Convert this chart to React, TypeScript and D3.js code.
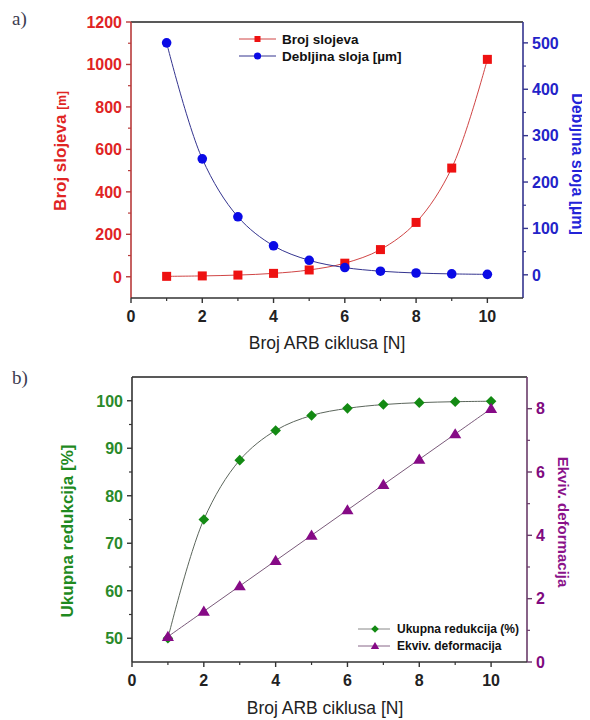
import React from "react";
import * as d3 from "d3";

const cycles = [1, 2, 3, 4, 5, 6, 7, 8, 9, 10];
const brojSlojeva = [2, 4, 8, 16, 32, 64, 128, 256, 512, 1024];
const debljinaSloja = [500, 250, 125, 62.5, 31.25, 15.6, 7.8, 3.9, 1.95, 0.98];
const ukupnaRedukcija = [50, 75, 87.5, 93.75, 96.9, 98.4, 99.2, 99.6, 99.8, 99.9];
const ekvivDeformacija = [0.8, 1.6, 2.4, 3.2, 4.0, 4.8, 5.6, 6.4, 7.2, 8.0];

const xMajor = [0, 2, 4, 6, 8, 10];
const xMinor = [1, 3, 5, 7, 9];
const aLeftMajor = [0, 200, 400, 600, 800, 1000, 1200];
const aLeftMinor = [100, 300, 500, 700, 900, 1100];
const aRightMajor = [0, 100, 200, 300, 400, 500];
const aRightMinor = [50, 150, 250, 350, 450];
const bLeftMajor = [50, 60, 70, 80, 90, 100];
const bLeftMinor = [55, 65, 75, 85, 95];
const bRightMajor = [0, 2, 4, 6, 8];
const bRightMinor = [1, 3, 5, 7];

const FONT = "'Liberation Sans', Arial, sans-serif";

type Sc = d3.ScaleLinear<number, number>;

function VAxis({ scale, x, major, minor, side, color, labelColor, size = 16 }: any) {
  const dir = side === "left" ? -1 : 1;
  const [r0, r1] = scale.range();
  return (
    <g>
      <line x1={x} x2={x} y1={r0} y2={r1} stroke={color} strokeWidth={1.6} />
      {major.map((v: number) => (
        <g key={"M" + v}>
          <line x1={x} x2={x + dir * 5} y1={scale(v)} y2={scale(v)} stroke={color} strokeWidth={1.4} />
          <text
            x={x + dir * 9}
            y={scale(v)}
            dy="0.36em"
            textAnchor={side === "left" ? "end" : "start"}
            fill={labelColor}
            fontFamily={FONT}
            fontWeight="bold"
            fontSize={size}
          >
            {v}
          </text>
        </g>
      ))}
      {minor.map((v: number) => (
        <line key={"m" + v} x1={x} x2={x + dir * 3} y1={scale(v)} y2={scale(v)} stroke={color} strokeWidth={1.2} />
      ))}
    </g>
  );
}

function XAxis({ scale, y, color }: any) {
  const [r0, r1] = scale.range();
  return (
    <g>
      <line x1={r0} x2={r1} y1={y} y2={y} stroke={color} strokeWidth={1.6} />
      {xMajor.map((v) => (
        <g key={"M" + v}>
          <line x1={scale(v)} x2={scale(v)} y1={y} y2={y + 5} stroke={color} strokeWidth={1.4} />
          <text x={scale(v)} y={y + 18} dy="0.36em" textAnchor="middle" fill="#222" fontFamily={FONT} fontWeight="bold" fontSize={16}>
            {v}
          </text>
        </g>
      ))}
      {xMinor.map((v) => (
        <line key={"m" + v} x1={scale(v)} x2={scale(v)} y1={y} y2={y + 3} stroke={color} strokeWidth={1.2} />
      ))}
    </g>
  );
}

function diamond(cx: number, cy: number, r: number) {
  return `M${cx},${cy - r}L${cx + r},${cy}L${cx},${cy + r}L${cx - r},${cy}Z`;
}
function triangle(cx: number, cy: number, r: number) {
  return `M${cx},${cy - r}L${cx + r * 1.05},${cy + r * 0.75}L${cx - r * 1.05},${cy + r * 0.75}Z`;
}

export default function App() {
  // Chart a
  const ax = d3.scaleLinear().domain([0, 11]).range([131, 523]);
  const ayL = d3.scaleLinear().domain([-100, 1200]).range([298, 22]);
  const ayR = d3.scaleLinear().domain([-50, 545]).range([298, 22]);
  // Chart b
  const bx = d3.scaleLinear().domain([0, 11]).range([132, 527]);
  const byL = d3.scaleLinear().domain([45, 105]).range([662, 377]);
  const byR = d3.scaleLinear().domain([0, 9]).range([662, 377]);

  const mk = (xs: Sc, ys: Sc, vals: number[]) =>
    d3
      .line<number>()
      .x((_, i) => xs(cycles[i]))
      .y((d) => ys(d))
      .curve(d3.curveCatmullRom.alpha(0.5))(vals) as string;

  return (
    <svg width={582} height={712} style={{ display: "block", background: "#fff" }}>
      <g transform="translate(-8,-8)">
        {/* ---------- Chart a ---------- */}
        <text x={12} y={25} fontFamily="'Liberation Serif', 'DejaVu Serif', serif" fontSize={19} fill="#3c3c50">
          a)
        </text>
        <line x1={131} x2={523} y1={22} y2={22} stroke="#222" strokeWidth={1.4} />
        <path d={mk(ax, ayL, brojSlojeva)} fill="none" stroke="#d04545" strokeWidth={1} />
        <path d={mk(ax, ayR, debljinaSloja)} fill="none" stroke="#34348f" strokeWidth={1} />
        {brojSlojeva.map((v, i) => (
          <rect key={"r" + i} x={ax(cycles[i]) - 4.5} y={ayL(v) - 4.5} width={9} height={9} fill="#ee1111" />
        ))}
        {debljinaSloja.map((v, i) => (
          <circle key={"c" + i} cx={ax(cycles[i])} cy={ayR(v)} r={4.8} fill="#0a0ae6" />
        ))}
        <VAxis scale={ayL} x={131} major={aLeftMajor} minor={aLeftMinor} side="left" color="#b83a3a" labelColor="#e02424" />
        <VAxis scale={ayR} x={523} major={aRightMajor} minor={aRightMinor} side="right" color="#34348f" labelColor="#2323c8" />
        <XAxis scale={ax} y={298} color="#333" />
        <text x={327} y={343} dy="0.36em" textAnchor="middle" fontFamily={FONT} fontSize={17.5} fill="#222">
          Broj ARB ciklusa [N]
        </text>
        <text transform="translate(60,151) rotate(-90)" dy="0.36em" textAnchor="middle" fontFamily={FONT} fontWeight="bold" fontSize={17} fill="#e02424">
          Broj slojeva <tspan fontSize={12}>[m]</tspan>
        </text>
        <text transform="translate(578,164) rotate(90)" dy="0.36em" textAnchor="middle" fontFamily={FONT} fontWeight="bold" fontSize={16} fill="#2323d8">
          Debljina sloja [µm]
        </text>
        {/* legend a */}
        <line x1={239} x2={276} y1={39} y2={39} stroke="#d04545" strokeWidth={1} />
        <rect x={254.5} y={36} width={6} height={6} fill="#ee1111" />
        <text x={282} y={39} dy="0.36em" fontFamily={FONT} fontWeight="bold" fontSize={13.5} fill="#111">
          Broj slojeva
        </text>
        <line x1={239} x2={276} y1={56} y2={56} stroke="#34348f" strokeWidth={1} />
        <circle cx={257.5} cy={56} r={3.6} fill="#0a0ae6" />
        <text x={282} y={56} dy="0.36em" fontFamily={FONT} fontWeight="bold" fontSize={13.5} fill="#111">
          Debljina sloja [µm]
        </text>

        {/* ---------- Chart b ---------- */}
        <text x={12} y={384} fontFamily="'Liberation Serif', 'DejaVu Serif', serif" fontSize={19} fill="#3c3c50">
          b)
        </text>
        <line x1={132} x2={527} y1={377} y2={377} stroke="#222" strokeWidth={1.4} />
        <path d={mk(bx, byL, ukupnaRedukcija)} fill="none" stroke="#5c665c" strokeWidth={1} />
        <path d={mk(bx, byR, ekvivDeformacija)} fill="none" stroke="#7a5a7a" strokeWidth={1} />
        {ukupnaRedukcija.map((v, i) => (
          <path key={"d" + i} d={diamond(bx(cycles[i]), byL(v), 5.3)} fill="#138a13" />
        ))}
        {ekvivDeformacija.map((v, i) => (
          <path key={"t" + i} d={triangle(bx(cycles[i]), byR(v), 5.8)} fill="#860a86" />
        ))}
        <VAxis scale={byL} x={132} major={bLeftMajor} minor={bLeftMinor} side="left" color="#333" labelColor="#2a8a2a" />
        <VAxis scale={byR} x={527} major={bRightMajor} minor={bRightMinor} side="right" color="#6a3c6a" labelColor="#800a80" />
        <XAxis scale={bx} y={662} color="#333" />
        <text x={325} y={708} dy="0.36em" textAnchor="middle" fontFamily={FONT} fontSize={17.5} fill="#222">
          Broj ARB ciklusa [N]
        </text>
        <text transform="translate(67,531) rotate(-90)" dy="0.36em" textAnchor="middle" fontFamily={FONT} fontWeight="bold" fontSize={17} fill="#1f8a1f">
          Ukupna redukcija [%]
        </text>
        <text transform="translate(563,522) rotate(90)" dy="0.36em" textAnchor="middle" fontFamily={FONT} fontWeight="bold" fontSize={15} fill="#8a128a">
          Ekviv. deformacija
        </text>
        {/* legend b */}
        <line x1={358} x2={390} y1={629} y2={629} stroke="#888" strokeWidth={1} />
        <path d={diamond(375, 629, 3.8)} fill="#138a13" />
        <text x={397} y={629} dy="0.36em" fontFamily={FONT} fontWeight="bold" fontSize={12} fill="#111">
          Ukupna redukcija (%)
        </text>
        <line x1={358} x2={390} y1={646} y2={646} stroke="#886688" strokeWidth={1} />
        <path d={triangle(375, 646, 4)} fill="#860a86" />
        <text x={397} y={646} dy="0.36em" fontFamily={FONT} fontWeight="bold" fontSize={12} fill="#111">
          Ekviv. deformacija
        </text>
      </g>
    </svg>
  );
}
